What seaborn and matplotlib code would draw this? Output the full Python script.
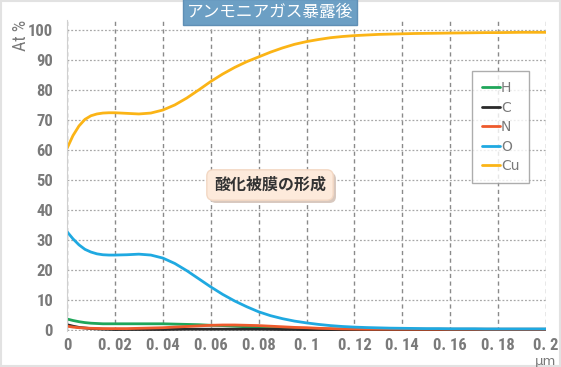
import matplotlib
matplotlib.use("Agg")
import matplotlib.pyplot as plt
import matplotlib.patheffects as pe
import seaborn as sns
import pandas as pd
from matplotlib.patches import Rectangle

# Depth (um) and atomic %
depth = [0.0, 0.0025, 0.005, 0.0075, 0.01, 0.0125, 0.015, 0.0175, 0.02,
         0.025, 0.03, 0.035, 0.04, 0.045, 0.05, 0.055, 0.06, 0.065, 0.07, 0.075,
         0.08, 0.085, 0.09, 0.095, 0.1, 0.105, 0.11, 0.115, 0.12, 0.125,
         0.13, 0.135, 0.14, 0.145, 0.15, 0.155, 0.16, 0.165, 0.17, 0.175,
         0.18, 0.185, 0.19, 0.195, 0.2]
cu = [60.5, 64.8, 68.0, 70.2, 71.4, 72.0, 72.3, 72.4, 72.4,
      72.2, 72.0, 72.3, 73.3, 75.0, 77.3, 80.0, 82.8, 85.3, 87.5, 89.4,
      91.0, 92.6, 94.0, 95.2, 96.1, 96.8, 97.4, 97.8, 98.1, 98.3,
      98.5, 98.6, 98.7, 98.8, 98.85, 98.9, 98.95, 99.0, 99.05, 99.1,
      99.1, 99.15, 99.2, 99.2, 99.2]
o = [32.8, 30.4, 28.4, 26.9, 26.0, 25.4, 25.1, 25.0, 25.0,
     25.1, 25.3, 25.0, 24.0, 22.2, 19.8, 17.1, 14.4, 11.9, 9.7, 7.8,
     6.1, 4.8, 3.8, 3.0, 2.4, 1.9, 1.5, 1.2, 1.0, 0.85,
     0.75, 0.65, 0.6, 0.55, 0.5, 0.5, 0.45, 0.45, 0.45, 0.4,
     0.4, 0.4, 0.4, 0.4, 0.4]
h = [3.7, 3.2, 2.8, 2.5, 2.3, 2.2, 2.1, 2.1, 2.1,
     2.1, 2.1, 2.1, 2.1, 2.0, 1.9, 1.8, 1.6, 1.5, 1.3, 1.1,
     0.9, 0.7, 0.6, 0.5, 0.4, 0.35, 0.3, 0.3, 0.25, 0.25,
     0.2, 0.2, 0.2, 0.2, 0.2, 0.2, 0.2, 0.2, 0.2, 0.2,
     0.2, 0.2, 0.2, 0.2, 0.2]
n = [1.3, 1.0, 0.8, 0.7, 0.6, 0.55, 0.5, 0.5, 0.5,
     0.5, 0.6, 0.7, 0.8, 1.0, 1.2, 1.4, 1.6, 1.7, 1.7, 1.6,
     1.5, 1.3, 1.1, 0.9, 0.8, 0.6, 0.5, 0.4, 0.35, 0.3,
     0.3, 0.3, 0.3, 0.3, 0.3, 0.3, 0.3, 0.3, 0.3, 0.3,
     0.3, 0.3, 0.3, 0.3, 0.3]
c = [1.8, 1.3, 0.9, 0.7, 0.5, 0.4, 0.3, 0.25, 0.2,
     0.2, 0.2, 0.2, 0.2, 0.25, 0.3, 0.3, 0.3, 0.3, 0.3, 0.3,
     0.3, 0.25, 0.2, 0.2, 0.15, 0.1, 0.1, 0.1, 0.1, 0.1,
     0.1, 0.1, 0.1, 0.1, 0.1, 0.1, 0.1, 0.1, 0.1, 0.1,
     0.1, 0.1, 0.1, 0.1, 0.1]

elements = ["H", "C", "N", "O", "Cu"]
series = {"H": h, "C": c, "N": n, "O": o, "Cu": cu}
colors = {"H": "#1fa65a", "C": "#2a2a2a", "N": "#ee5a2c", "O": "#1fa9e1", "Cu": "#fbb416"}

x_ticks = [0, 0.02, 0.04, 0.06, 0.08, 0.1, 0.12, 0.14, 0.16, 0.18, 0.2]
x_labels = ["0", "0. 02", "0. 04", "0. 06", "0. 08", "0. 1", "0. 12", "0. 14", "0. 16", "0. 18", "0. 2"]
y_ticks = [0, 10, 20, 30, 40, 50, 60, 70, 80, 90, 100]

# Long-form table for seaborn
df = pd.DataFrame({
    "depth": depth * len(elements),
    "at": [v for e in elements for v in series[e]],
    "element": [e for e in elements for _ in depth],
})

sns.set_style("white")
narrow = ["Liberation Sans Narrow", "DejaVu Sans Condensed", "Roboto Condensed", "Roboto", "DejaVu Sans"]
plt.rcParams["font.family"] = narrow
jp = ["Noto Sans CJK JP", "DejaVu Sans"]
grey = "#7a7a7a"

fig = plt.figure(figsize=(5.61, 3.67), dpi=100)
ax = fig.add_axes([67 / 561, 36 / 367, 479 / 561, 311 / 367])

sns.lineplot(data=df, x="depth", y="at", hue="element", hue_order=elements,
             palette=colors, linewidth=2, ax=ax)

ax.set_xlim(0, 0.2)
ax.set_ylim(-0.3, 103.3)
ax.set_xticks(x_ticks)
ax.set_xticklabels(x_labels)
ax.set_yticks(y_ticks)
ax.tick_params(axis="x", length=0, labelsize=12, labelcolor=grey, pad=5)
ax.tick_params(axis="y", length=0, labelsize=12, labelcolor=grey, pad=10)
for lbl in ax.get_xticklabels() + ax.get_yticklabels():
    lbl.set_fontweight("bold")
ax.set_xlabel("")
ax.set_ylabel("")

# Grid: dashed verticals, dotted horizontals
ax.grid(visible=True, axis="x", color="#8a8a8a", linestyle=(0, (3, 2.5)), linewidth=1)
ax.grid(visible=True, axis="y", color="#a8a8a8", linestyle=(0, (1.5, 1.5)), linewidth=0.9)
ax.set_axisbelow(True)
for side in ["top", "right", "bottom"]:
    ax.spines[side].set_visible(False)
ax.spines["left"].set_color("#d0d0d0")

leg = ax.legend(loc="upper right", bbox_to_anchor=(0.965, 0.835), frameon=True,
                fancybox=False, edgecolor="#999999",
                handlelength=1.3, handletextpad=0.1, labelspacing=0.4,
                borderpad=0.7, borderaxespad=0, prop={"family": "DejaVu Sans", "size": 10})
leg.get_frame().set_linewidth(1)
for t in leg.get_texts():
    t.set_color(grey)
leg.set_zorder(5)

# Axis captions
fig.text(21 / 561, 1 - 35 / 367, "At %", rotation=90, ha="center", va="center",
         fontsize=13, color=grey)
fig.text(546 / 561, 1 - 361 / 367, "μm", ha="center", va="center",
         fontsize=9.5, color=grey, family=["DejaVu Sans"])

# Title box
fig.text(270 / 561, 1 - 12 / 367, "アンモニアガス暴露後", ha="center", va="center",
         fontsize=12, color="white", family=jp,
         bbox=dict(boxstyle="square,pad=0.25", fc="#6c9fc4", ec="#5f8fb5", lw=1))

# Annotation box with a soft shadow
note = fig.text(270 / 561, 1 - 185 / 367, "酸化被膜の形成", ha="center", va="center",
                fontsize=11.5, color="#333333", fontweight="bold", family=jp,
                bbox=dict(boxstyle="round,pad=0.45,rounding_size=0.4", fc="#fdeadb",
                          ec="#f3d8c4", lw=1))
note.get_bbox_patch().set_path_effects([
    pe.withSimplePatchShadow(offset=(2, -2), shadow_rgbFace="#d8c8be", alpha=1)])

# Light frame around figure
fig.patches.append(Rectangle((0.002, 0.004), 0.996, 0.992, transform=fig.transFigure,
                             fill=False, ec="#e2e2e2", lw=1.5))

fig.savefig("out.png", dpi=100)
